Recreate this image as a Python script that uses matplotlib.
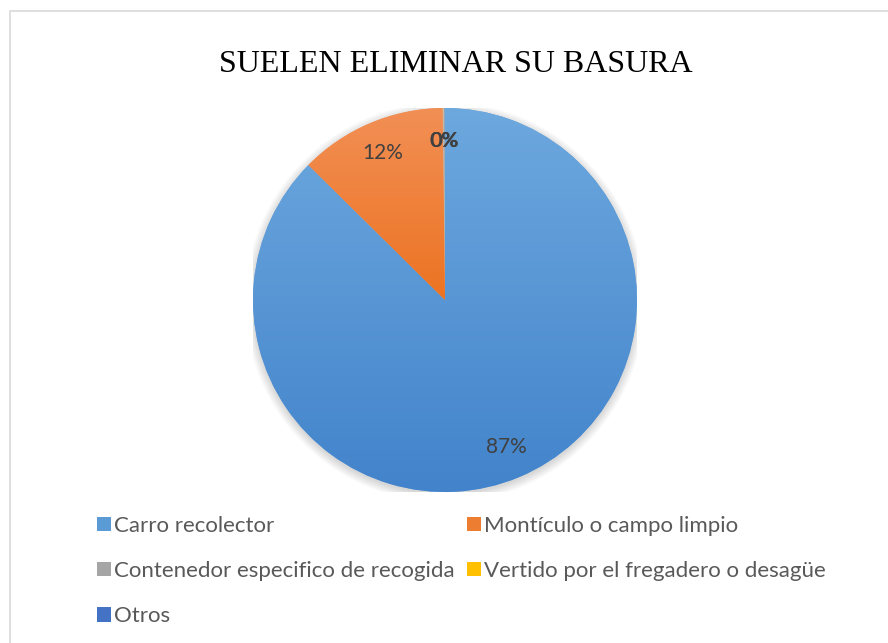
import numpy as np
import matplotlib
matplotlib.use("Agg")
import matplotlib.pyplot as plt
from matplotlib.colors import LinearSegmentedColormap
from matplotlib.patches import Rectangle, Patch

# data
categories = ["Carro recolector", "Montículo o campo limpio",
              "Contenedor especifico de recogida",
              "Vertido por el fregadero o desagüe", "Otros"]
shares = [87.4, 12.4, 0.1, 0.05, 0.05]
# light (top) / dark (bottom) tone of each slice, Office style gradient
tones = [("#6da8de", "#4283cb"), ("#f28f55", "#ec7322"),
         ("#b4b4b4", "#999999"), ("#ffcb33", "#f0b400"), ("#5a84cf", "#3d66b5")]
legend_colors = ["#5b9bd5", "#ed7d31", "#a5a5a5", "#ffc000", "#4472c4"]

text_font = ["Lato", "DejaVu Sans"]

fig = plt.figure(figsize=(8.88, 6.43), dpi=100)
fig.patches.append(Rectangle((10 / 888, -0.1), 1.0, 1 - 11 / 643 + 0.1,
                             transform=fig.transFigure, fill=False,
                             edgecolor="#d9d9d9", linewidth=1.2))

fig.text(456 / 888, 1 - 64 / 643, "SUELEN ELIMINAR SU BASURA", ha="center", va="center",
         fontsize=23, family="Liberation Serif", color="black")

ax = fig.add_axes([445 / 888 - 192 / 888, 1 - 300 / 643 - 192 / 643,
                   384 / 888, 384 / 643])
ax.set_aspect("equal")

# soft shadow under the pie
for k in range(8):
    ax.add_patch(plt.Circle((0, -0.012), 1.0 + 0.006 * k, color="black",
                            alpha=0.018, linewidth=0, zorder=0))

wedges, texts, autotexts = ax.pie(
    shares, startangle=90, counterclock=False, colors=[t[0] for t in tones],
    autopct="%.0f%%", pctdistance=0.83,
    textprops=dict(fontsize=15, family=text_font, color="#404040"))

# vertical gradient inside each slice
grad = np.linspace(0, 1, 256).reshape(-1, 1)
for w, (light, dark) in zip(wedges, tones):
    if w.theta2 - w.theta1 < 1:
        continue
    ext = w.get_path().get_extents()
    cmap = LinearSegmentedColormap.from_list("g", [dark, light])
    im = ax.imshow(grad, cmap=cmap, origin="lower", aspect="auto",
                   extent=[ext.x0, ext.x1, ext.y0, ext.y1], zorder=1)
    im.set_clip_path(w)
    w.set_zorder(0.5)
for t in autotexts:
    t.set_zorder(3)

ax.set_xlim(-1, 1)
ax.set_ylim(-1, 1)
ax.axis("off")

order = [0, 2, 4, 1, 3]
handles = [Patch(facecolor=legend_colors[i], edgecolor="none") for i in order]
labels = [categories[i] for i in order]
fig.legend(handles, labels, loc="upper left", bbox_to_anchor=(77 / 888, 1 - 496 / 643),
           ncol=2, frameon=False, handlelength=0.62, handleheight=0.62,
           handletextpad=0.15, columnspacing=0.55, labelspacing=1.13,
           prop=dict(family=text_font, size=16), labelcolor="#595959")

fig.savefig("out.png", dpi=100)
